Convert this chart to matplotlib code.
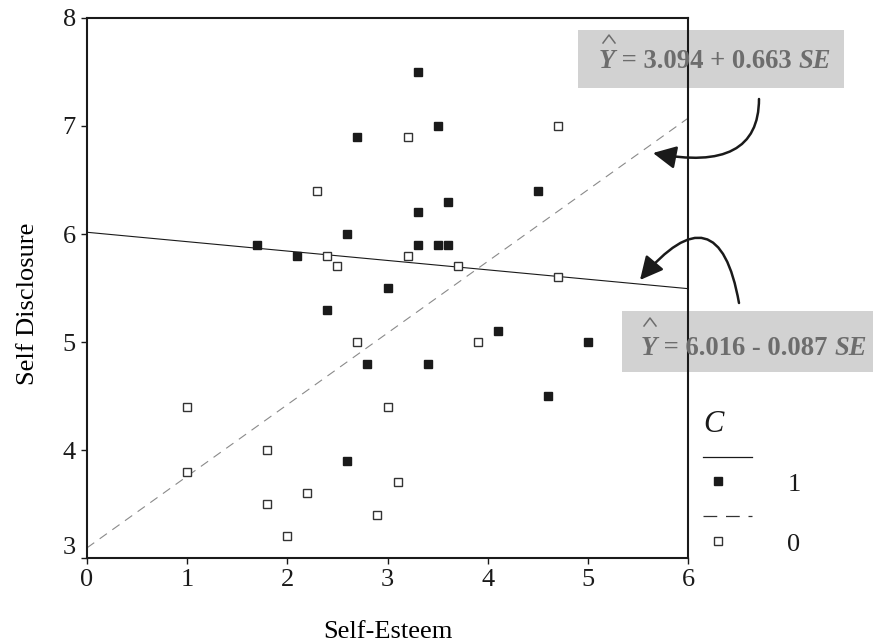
import numpy as np
import matplotlib.pyplot as plt
from matplotlib.lines import Line2D
from matplotlib.patches import Rectangle
import matplotlib.transforms as mtransforms

plt.rcParams['font.family'] = ['Liberation Serif', 'DejaVu Serif']

# ===== DATOS =====
# grupo C = 1 (cuadrados rellenos)
se_c1 = [1.7, 2.1, 2.4, 2.6, 2.6, 2.7, 2.8, 3.0, 3.3, 3.3, 3.3,
         3.4, 3.5, 3.5, 3.6, 3.6, 4.1, 4.5, 4.6, 5.0]
sd_c1 = [5.9, 5.8, 5.3, 6.0, 3.9, 6.9, 4.8, 5.5, 7.5, 6.2, 5.9,
         4.8, 7.0, 5.9, 6.3, 5.9, 5.1, 6.4, 4.5, 5.0]
# grupo C = 0 (cuadrados vacios)
se_c0 = [1.0, 1.0, 1.8, 1.8, 2.0, 2.2, 2.3, 2.4, 2.5, 2.7,
         2.9, 3.0, 3.1, 3.2, 3.2, 3.7, 3.9, 4.7, 4.7]
sd_c0 = [4.4, 3.8, 4.0, 3.5, 3.2, 3.6, 6.4, 5.8, 5.7, 5.0,
         3.4, 4.4, 3.7, 6.9, 5.8, 5.7, 5.0, 7.0, 5.6]

# rectas de regresion
b0_c1, b1_c1 = 6.016, -0.087
b0_c0, b1_c0 = 3.094, 0.663

x_ticks = [0, 1, 2, 3, 4, 5, 6]
y_ticks = [3, 4, 5, 6, 7, 8]

W, H = 873, 644
TXT = '#6d6d6d'
BOX = '#d2d2d2'


def fx(px):
    return px / W


def fy(py):
    return 1 - py / H


# ===== FIGURA =====
fig = plt.figure(figsize=(W / 100, H / 100), dpi=100)
ax = fig.add_axes([fx(87), fy(558), (688 - 87) / W, (558 - 18) / H])
ax.patch.set_visible(False)

xs = np.array([x_ticks[0], x_ticks[-1]], dtype=float)
ax.plot(xs, b0_c1 + b1_c1 * xs, color='#1a1a1a', lw=0.8, zorder=2)
ax.plot(xs, b0_c0 + b1_c0 * xs, color='#8a8a8a', lw=0.8,
        dashes=(8, 6), zorder=2)

ax.plot(se_c1, sd_c1, ls='none', marker='s', ms=6.3,
        mfc='#1a1a1a', mec='#1a1a1a', zorder=3)
ax.plot(se_c0, sd_c0, ls='none', marker='s', ms=6.3,
        mfc='white', mec='#333333', mew=1.0, zorder=3)

ax.set_xlim(0, 6)
ax.set_ylim(3, 8)
ax.set_xticks(x_ticks)
ax.set_yticks(y_ticks)
ax.tick_params(direction='out', length=4, width=1, labelsize=19,
               colors='#1a1a1a', pad=4)
for s in ax.spines.values():
    s.set_linewidth(1.5)
    s.set_color('#1a1a1a')

# el "3" del eje y va un poco mas arriba
t3 = ax.yaxis.get_major_ticks()[0].label1
t3.set_transform(t3.get_transform() +
                 mtransforms.ScaledTranslation(0, 0.12, fig.dpi_scale_trans))

ax.set_xlabel('Self-Esteem', fontsize=19, va='center')
ax.set_ylabel('Self Disclosure', fontsize=19, va='center')
ax.xaxis.set_label_coords(0.5, -0.137)
ax.yaxis.set_label_coords(-0.098, 0.47)


# ===== ECUACIONES =====
def ecuacion(box, x0, base, hat, const, sign, slope):
    fig.patches.append(Rectangle((fx(box[0]), fy(box[3])),
                                 (box[2] - box[0]) / W, (box[3] - box[1]) / H,
                                 transform=fig.transFigure, facecolor=BOX,
                                 edgecolor='none', zorder=-1))
    kw = dict(fontsize=19.2, fontweight='bold', color=TXT, zorder=5)
    ty = fig.text(fx(x0), fy(base), 'Y', style='italic', va='baseline', **kw)
    tm = ax.annotate(f' = {const} {sign} {slope} ', xy=(1, 0), xycoords=ty,
                     va='bottom', annotation_clip=False, **kw)
    ax.annotate('SE', xy=(1, 0), xycoords=tm, va='bottom', style='italic',
                annotation_clip=False, **kw)
    # sombrerito sobre la Y
    hx, hy = hat
    fig.add_artist(Line2D([fx(hx - 6), fx(hx), fx(hx + 6)],
                          [fy(hy + 8), fy(hy), fy(hy + 8)],
                          transform=fig.transFigure, color=TXT, lw=1.1,
                          zorder=5))


ecuacion((578, 30, 844, 88), 599, 68, (609, 35),
         f'{b0_c0:.3f}', '+', f'{b1_c0:.3f}')
ecuacion((622, 311, 873, 372), 641, 355, (650, 318),
         f'{b0_c1:.3f}', '-', f'{abs(b1_c1):.3f}')

# flechas curvas
ax.annotate('', xy=(fx(653), fy(153)), xycoords='figure fraction',
            xytext=(fx(759), fy(99)), textcoords='figure fraction',
            arrowprops=dict(arrowstyle='-|>,head_length=0.7,head_width=0.35',
                            connectionstyle='angle3,angleA=-90,angleB=-11',
                            color='#1a1a1a', lw=1.8, mutation_scale=20,
                            shrinkA=0, shrinkB=0),
            annotation_clip=False)
ax.annotate('', xy=(fx(640), fy(280)), xycoords='figure fraction',
            xytext=(fx(739), fy(303)), textcoords='figure fraction',
            arrowprops=dict(arrowstyle='-|>,head_length=0.7,head_width=0.35',
                            connectionstyle='angle3,angleA=100,angleB=50',
                            color='#1a1a1a', lw=1.8, mutation_scale=20,
                            shrinkA=0, shrinkB=0),
            annotation_clip=False)

# ===== LEYENDA =====
fig.text(fx(713), fy(424), 'C', fontsize=22, style='italic',
         ha='center', va='center', color='#1a1a1a')
fig.add_artist(Line2D([fx(703), fx(752)], [fy(457), fy(457)],
                      transform=fig.transFigure, color='#1a1a1a', lw=0.9))
fig.add_artist(Line2D([fx(718)], [fy(481)], transform=fig.transFigure,
                      ls='none', marker='s', ms=5.8, mfc='#1a1a1a',
                      mec='#1a1a1a'))
fig.text(fx(794), fy(485), '1', fontsize=19, ha='center', va='center',
         color='#1a1a1a')
fig.add_artist(Line2D([fx(703), fx(752)], [fy(516), fy(516)],
                      transform=fig.transFigure, color='#333333', lw=0.9,
                      dashes=(11, 7)))
fig.add_artist(Line2D([fx(718)], [fy(541)], transform=fig.transFigure,
                      ls='none', marker='s', ms=5.8, mfc='white',
                      mec='#333333', mew=1.0))
fig.text(fx(794), fy(545), '0', fontsize=19, ha='center', va='center',
         color='#1a1a1a')

fig.savefig('out.png', dpi=100)
